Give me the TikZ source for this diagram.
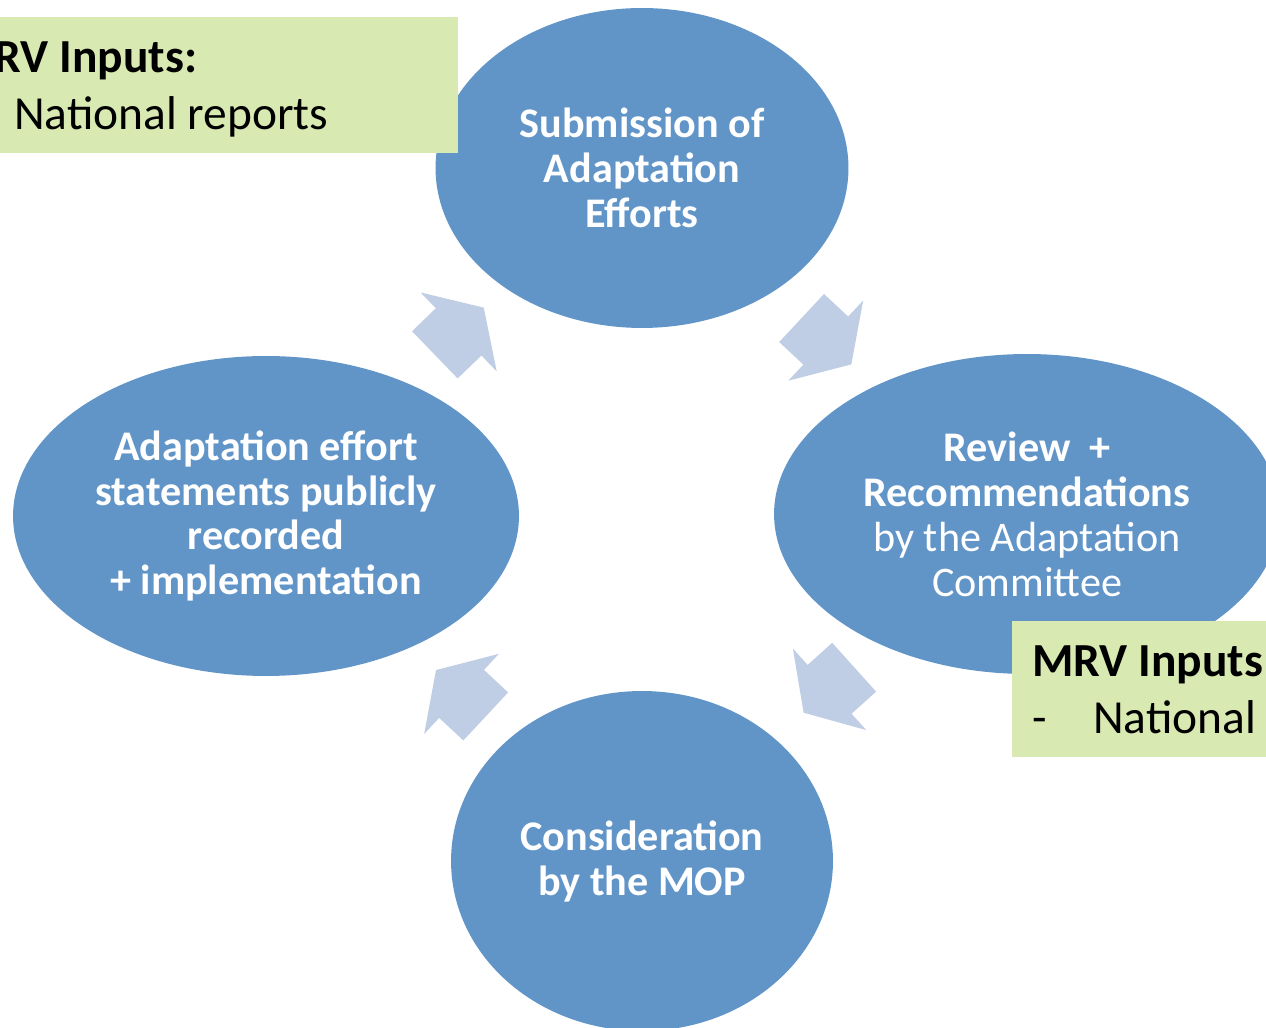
\documentclass[tikz,border=0pt]{standalone}
\usepackage{fontspec}
\setmainfont{Carlito}
\usetikzlibrary{shapes.geometric,shapes.arrows,calc}

\definecolor{stageblue}{RGB}{97,149,200}
\definecolor{cyclearrow}{RGB}{191,206,228}
\definecolor{inputgreen}{RGB}{216,233,178}

\begin{document}
\begin{tikzpicture}[
                x=0.02cm, y=0.02cm,
                stage/.style={ellipse, fill=stageblue, inner sep=0pt, text=white,
                        align=flush center, font=\fontsize{24}{25.6}\selectfont},
                turn/.style={single arrow, fill=cyclearrow, inner xsep=0pt, inner ysep=0.65cm,
                        minimum height=1.36cm,
                        single arrow head extend=0.44cm, single arrow tip angle=115,
                        single arrow head indent=0pt},
                inputbox/.style={rectangle, fill=inputgreen, anchor=north west,
                        minimum width=10.5cm, minimum height=2.72cm, inner xsep=0.4cm,
                        text width=9.7cm, text depth=32.4pt, align=flush left,
                        font=\fontsize{27}{32.4}\selectfont}
            ]
            \useasboundingbox (0,0) rectangle (1266,1027);
            \clip (0,0) rectangle (1266,1027);

            % the four stages
            \node[stage, minimum width=8.26cm, minimum height=6.4cm] (submit) at (642,859)
                {\textbf{Submission of}\\\textbf{Adaptation}\\\textbf{Efforts}};
            \node[stage, minimum width=10.12cm, minimum height=6.4cm] (review) at (1027,513)
                {\textbf{Review\ \ +}\\\textbf{Recommendations}\\by the Adaptation\\Committee};
            \node[stage, minimum width=7.64cm, minimum height=6.8cm] (mop) at (642,166)
                {\textbf{Consideration}\\\textbf{by the MOP}};
            \node[stage, minimum width=10.12cm, minimum height=6.4cm] (record) at (266,511)
                {\textbf{Adaptation effort}\\\textbf{statements publicly}\\\textbf{recorded}\\\textbf{+ implementation}};

            % cycle arrows
            \node[turn, rotate=-43] (toreview) at ($(submit)!0.48!(review)+(-8,0)$) {};
            \node[turn, rotate=222] (tomop) at ($(review)!0.51!(mop)+(6,8)$) {};
            \node[turn, rotate=137] (torecord) at ($(mop)!0.48!(record)+(7,-5)$) {};
            \node[turn, rotate=44] (tosubmit) at ($(record)!0.51!(submit)+(-6,0)$) {};

            % MRV inputs
            \node[inputbox] (mrvsubmit) at (-67,1010)
                {\textbf{MRV Inputs:}\\\makebox[1.22cm][l]{-}National reports};
            \node[inputbox] (mrvreview) at (1012,406)
                {\textbf{MRV Inputs:}\\\makebox[1.22cm][l]{-}National reports};
        \end{tikzpicture}
\end{document}
